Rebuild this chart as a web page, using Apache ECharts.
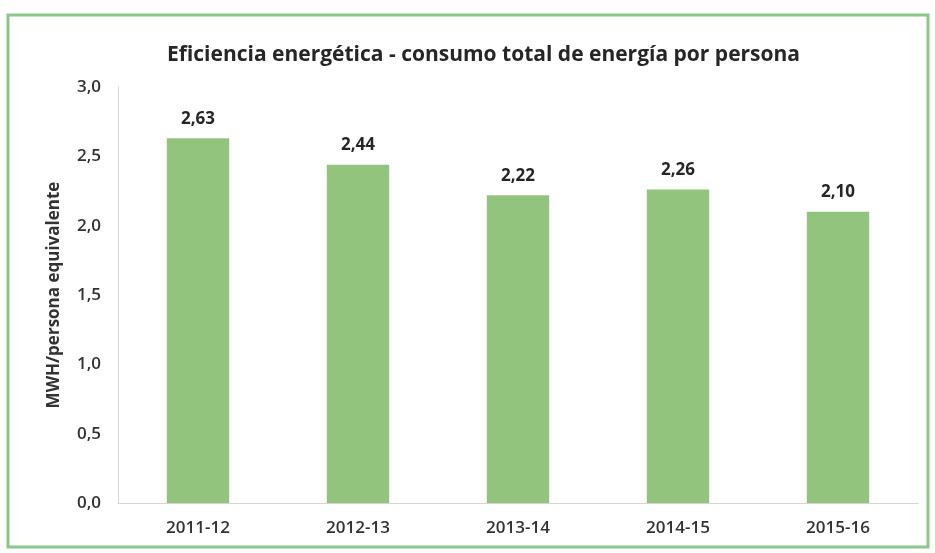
<!DOCTYPE html>
<html>
<head>
<meta charset="utf-8">
<script src="https://cdn.jsdelivr.net/npm/echarts@6/dist/echarts.min.js"></script>
<style>
  html, body { margin: 0; padding: 0; background: #fff; }
  #chart { width: 935px; height: 553px; }
</style>
</head>
<body>
<div id="chart"></div>
<script>
// datos del gráfico
const categories = ['2011-12', '2012-13', '2013-14', '2014-15', '2015-16']
const consumo = [2.63, 2.44, 2.22, 2.26, 2.10]
const yTicks = [0, 0.5, 1, 1.5, 2, 2.5, 3]

const fmt = v => v.toFixed(1).replace('.', ',')

const chart = echarts.init(document.getElementById('chart'))
chart.setOption({
  backgroundColor: '#fff',
  animation: false,
  title: {
    text: 'Eficiencia energética - consumo total de energía por persona',
    left: 162,
    top: 40,
    textStyle: {
      fontFamily: 'Open Sans',
      fontWeight: 'bold',
      fontSize: 21,
      color: '#262626'
    }
  },
  // marco verde exterior
  graphic: [{
    type: 'rect',
    shape: { x: 8, y: 15, width: 920, height: 532 },
    style: { fill: 'none', stroke: '#8cc78a', lineWidth: 3 },
    silent: true
  }],
  grid: {
    left: 118,
    right: 17,
    top: 87,
    bottom: 50
  },
  xAxis: {
    type: 'category',
    data: categories,
    axisTick: { show: false },
    axisLine: { lineStyle: { color: '#d4d4d4', width: 1 } },
    axisLabel: {
      margin: 17,
      fontFamily: 'Open Sans',
      fontWeight: 600,
      fontSize: 17,
      color: '#333'
    }
  },
  yAxis: {
    type: 'value',
    min: yTicks[0],
    max: yTicks[yTicks.length - 1],
    interval: 0.5,
    name: 'MWH/persona equivalente',
    nameLocation: 'middle',
    nameGap: 55,
    nameTextStyle: {
      fontFamily: 'Open Sans',
      fontWeight: 'bold',
      fontSize: 17,
      color: '#333'
    },
    axisLine: { show: true, lineStyle: { color: '#d4d4d4' } },
    axisTick: { show: false },
    splitLine: { show: false },
    axisLabel: {
      margin: 17,
      fontFamily: 'Open Sans',
      fontWeight: 600,
      fontSize: 17,
      color: '#333',
      formatter: fmt
    }
  },
  series: [{
    type: 'bar',
    data: consumo,
    barWidth: '39%',
    itemStyle: { color: '#93c47e' },
    label: {
      show: true,
      position: 'top',
      distance: 11,
      fontFamily: 'Open Sans',
      fontWeight: 'bold',
      fontSize: 17,
      color: '#262626',
      formatter: p => p.value.toFixed(2).replace('.', ',')
    }
  }]
})
</script>
</body>
</html>
